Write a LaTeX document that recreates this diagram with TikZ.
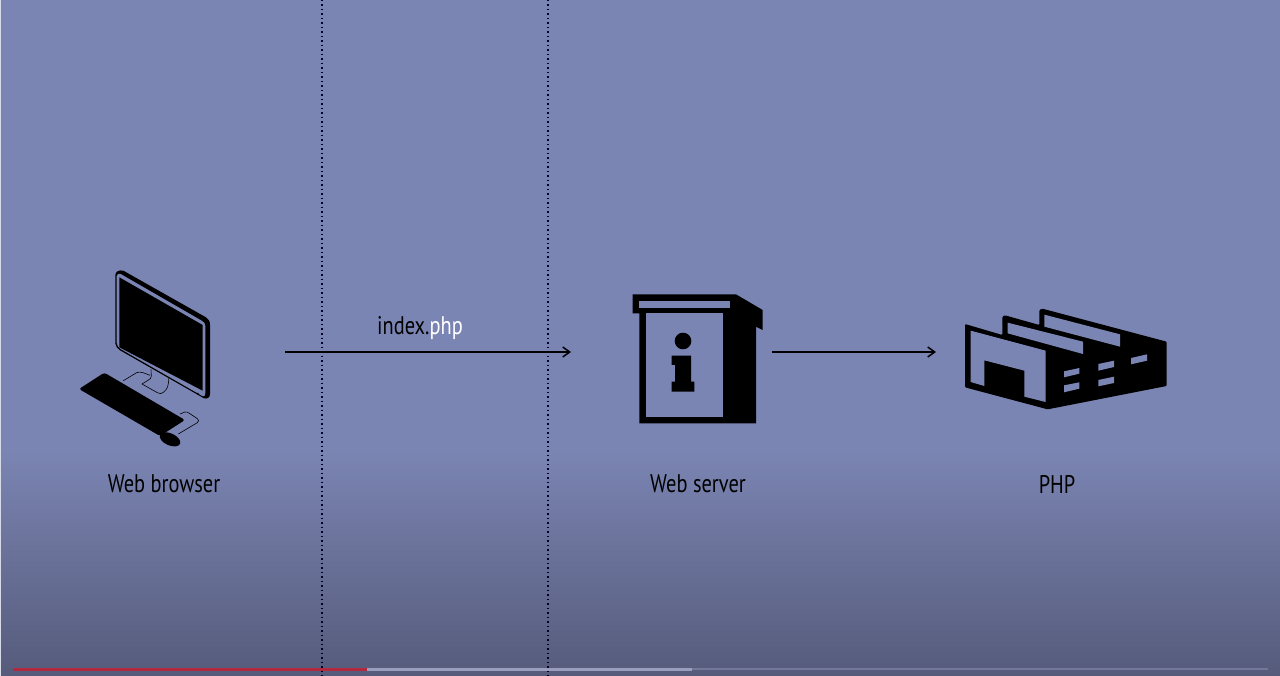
\documentclass[tikz,border=0pt]{standalone}
\usepackage{fontspec}
\setmainfont[FakeStretch=0.8]{PT Sans}
\usetikzlibrary{arrows.meta}
\definecolor{bgtop}{HTML}{7B85B3}
\definecolor{bgbot}{HTML}{565B7B}
\definecolor{barred}{HTML}{B2283F}
\definecolor{barlight}{HTML}{9A9DBC}
\definecolor{bardark}{HTML}{73789A}
\tikzset{
  label text/.style={font=\fontsize{25.5}{30}\selectfont, text=black, inner sep=0pt, anchor=center},
  link/.style={draw=black, line width=1.7pt, -{Straight Barb[length=7pt,width=10pt,line width=1.5pt]}},
  divider/.style={draw=black!85!blue, line width=1.1pt, dash pattern=on 1.5pt off 3pt},
  iconblack/.style={fill=black, draw=none},
  iconlight/.style={fill=bgtop, draw=none},
  wire/.style={draw=black, line width=0.6pt, fill=none, line join=round},
}
\begin{document}
\begin{tikzpicture}[x=1pt,y=-1pt]
\useasboundingbox (0,0) rectangle (1280,676);
% background
\fill[bgtop] (0,0) rectangle (1280,450);
\shade[top color=bgtop, bottom color=bgbot] (0,450) rectangle (1280,676);
\fill[white!70!bgtop] (0,0) rectangle (1,676);
% dividers
\coordinate (d1t) at (322,0); \coordinate (d1b) at (322,676);
\coordinate (d2t) at (548,0); \coordinate (d2b) at (548,676);
\draw[divider] (d1t) -- (d1b);
\draw[divider] (d2t) -- (d2b);
% progress bar
\fill[bardark] (692,667.8) rectangle (1268,670.2);
\fill[barlight] (367,667.5) rectangle (692,670.5);
\fill[barred] (13,667.5) rectangle (367,670.5);
% monitor
\begin{scope}[shift={(70,260)},scale=1/3]
  \path[iconblack] (136,45) .. controls (137,35) and (146,29) .. (160,32) -- (408,172) .. controls (416,177) and (420,184) .. (420,195) -- (420,402) .. controls (420,412) and (412,418) .. (402,415) -- (150,271) .. controls (142,266) and (136,258) .. (136,250) -- cycle;
  \path[iconlight] (140,48) .. controls (141,42) and (146,40) .. (152,42) -- (395,182) .. controls (402,186) and (406,190) .. (406,198) -- (406,400) .. controls (406,408) and (402,411) .. (397,408) -- (152,267) .. controls (146,263) and (140,256) .. (140,248) -- cycle;
  \path[iconblack] (148,52) -- (398,195) -- (398,392) -- (148,262) -- cycle;
  \fill[black] (383,401) circle (3);
  \draw[wire] (243,328) -- (244,348) .. controls (244,354) and (240,358) .. (234,361) -- (216,372) -- (262,398) .. controls (270,402) and (274,402) .. (280,397) .. controls (292,388) and (296,378) .. (296,355);
  \draw[wire] (160,362) -- (200,338) .. controls (210,333) and (225,340) .. (240,346);
  \path[iconblack,rounded corners=2.5pt] (27,387) -- (103,338) -- (345,480) -- (270,528) -- cycle;
  \draw[wire] (330,462) -- (345,456) .. controls (350,455) and (353,457) .. (358,460) -- (382,476) .. controls (387,480) and (387,484) .. (382,488) -- (325,522);
  \path[iconblack,rotate around={-24:(300,538)}] (300,538) ellipse (33 and 18);
\end{scope}
% server
\begin{scope}[shift={(620,285)},scale=1/3]
  \path[iconblack] (38,28) -- (348,28) -- (428,75) -- (428,135) -- (408,125) -- (408,415) -- (58,415) -- (58,85) -- (38,85) -- cycle;
  \path[iconlight] (58,47) rectangle (330,68);
  \path[iconlight] (78,85) rectangle (310,396);
  \fill[black] (189,168) circle (25);
  \path[iconblack] (155,212) -- (213,212) -- (213,290) -- (223,290) -- (223,320) -- (155,320) -- (155,290) -- (165,290) -- (165,240) -- (155,240) -- cycle;
\end{scope}
% factory
\begin{scope}[shift={(955,300)},scale=1/3]
  \path[iconblack,rounded corners=1pt] (30,72) -- (142,105) -- (142,50) -- (150,46) -- (253,75) -- (253,30) -- (262,26) -- (635,125) -- (635,258) -- (278,328) -- (30,262) -- cycle;
  \path[iconlight] (47,92) -- (272,152) -- (272,306) -- (208,290) -- (208,212) -- (88,181) -- (88,258) -- (47,246) -- cycle;
  \path[iconlight] (158,68) -- (384,125) -- (384,162) -- (158,100) -- cycle;
  \path[iconlight] (268,44) -- (495,103) -- (495,140) -- (268,80) -- cycle;
  \path[iconlight] (327,214) -- (373,204) -- (373,221) -- (327,232) -- cycle;
  \path[iconlight] (327,256) -- (373,247) -- (373,266) -- (327,277) -- cycle;
  \path[iconlight] (430,192) -- (477,182) -- (477,201) -- (430,212) -- cycle;
  \path[iconlight] (430,240) -- (477,230) -- (477,249) -- (430,259) -- cycle;
  \path[iconlight] (528,174) -- (576,163) -- (576,182) -- (528,193) -- cycle;
\end{scope}
% labels
\node[label text] (browser) at (164,484) {Web browser};
\node[label text] (server) at (698,484) {Web server};
\node[label text] (php) at (1057,484) {PHP};
\node[label text] (index) at (420,328) {index.\textcolor{white}{php}};
% connectors
\coordinate (a1s) at (285,352);
\coordinate (a1e) at (571,352);
\coordinate (a2s) at (772,352);
\coordinate (a2e) at (936,352);
\draw[link] (a1s) -- (a1e);
\draw[link] (a2s) -- (a2e);
\end{tikzpicture}
\end{document}
